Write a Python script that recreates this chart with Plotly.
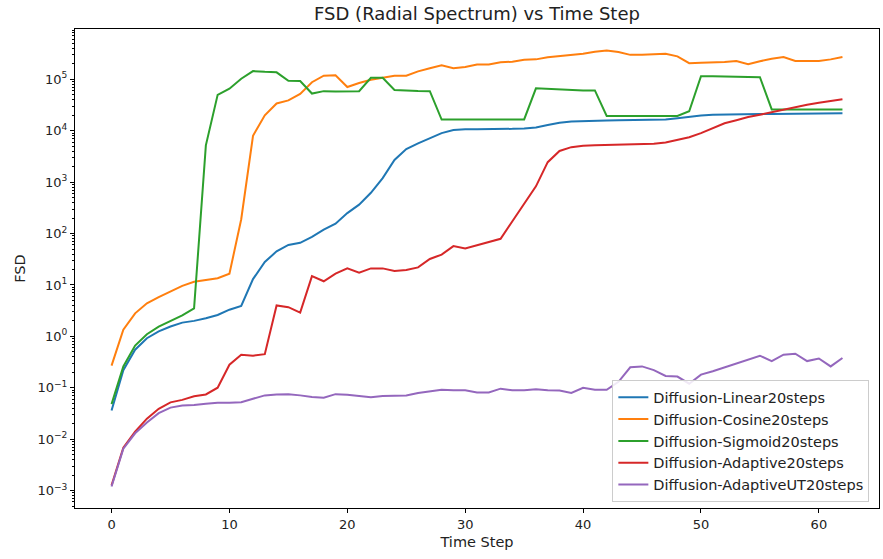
import plotly.graph_objects as go

steps = list(range(63))

linear = [0.036, 0.22, 0.55, 0.92, 1.25, 1.55, 1.85, 2.0, 2.25, 2.6, 3.3, 3.9, 13, 28, 45, 60, 66, 86, 119, 156, 250, 365,
          620, 1200, 2700, 4400, 5700, 7200, 9000, 10300, 10700, 10700, 10700, 10800, 10900, 11100, 11600, 12900,
          14300, 15200, 15600, 15800, 15900, 16000, 16100, 16200, 16300, 16600, 17600, 18900, 19900, 20500, 20800,
          21000, 21100, 21200, 21300, 21300, 21400, 21400, 21500, 21600, 22000]

cosine = [0.27, 1.35, 2.8, 4.4, 5.8, 7.6, 9.6, 11.5, 12.5, 13.5, 16.5, 190, 8000, 20000, 34000, 39000, 52000, 88000,
          118000, 120000, 71000, 85000, 98000, 108000, 118000, 118000, 143000, 165000, 187000, 165000, 174000,
          194000, 194000, 215000, 220000, 240000, 245000, 270000, 285000, 295000, 316000, 345000, 365000, 340000,
          300000, 300000, 305000, 316000, 280000, 207000, 210000, 213000, 218000, 228000, 198000, 225000, 253000,
          272000, 228000, 228000, 228000, 245000, 272000]

sigmoid = [0.048, 0.26, 0.66, 1.1, 1.55, 2.0, 2.55, 3.5, 5200, 50000, 66000, 103000, 145000, 140000, 137000, 94000,
           93000, 53000, 59000, 58000, 58000, 59000, 107000, 107000, 62000, 60000, 59500, 59000, 16500, 16500, 16500,
           16500, 16500, 16500, 16500, 16600, 67000, 65000, 63500, 62000, 61000, 61000, 19400, 19400, 19400, 19400,
           19400, 19400, 19400, 24000, 115000, 115000, 114000, 112000, 111000, 110000, 26000, 26000, 26000, 26000,
           26000, 26000, 26000]

adaptive = [0.00126, 0.0068, 0.014, 0.025, 0.039, 0.052, 0.058, 0.068, 0.074, 0.10, 0.28, 0.44, 0.42, 0.45, 4.0,
            3.7, 2.9, 14.8, 11.8, 16.6, 21, 17.4, 21, 21, 18.6, 19.5, 22, 32, 39, 57, 51, 59, 68, 79, 174, 380, 830,
            2450, 4050, 4800, 5100, 5200, 5250, 5300, 5350, 5450, 5600, 5900, 6600, 7500, 9000, 11200, 14000, 16000,
            18500, 20500, 23000, 26000, 29000, 32000, 35000, 38000, 41000]

adaptive_ut = [0.0012, 0.0065, 0.013, 0.021, 0.032, 0.041, 0.045, 0.046, 0.049, 0.051, 0.051, 0.052, 0.061, 0.071,
               0.074, 0.075, 0.071, 0.066, 0.064, 0.075, 0.073, 0.069, 0.065, 0.069, 0.071, 0.071, 0.079, 0.085,
               0.091, 0.089, 0.089, 0.081, 0.081, 0.096, 0.089, 0.089, 0.093, 0.089, 0.088, 0.079, 0.10, 0.091,
               0.091, 0.13, 0.25, 0.26, 0.22, 0.17, 0.165, 0.12, 0.18, 0.21, 0.25, 0.30, 0.36, 0.42, 0.33, 0.44,
               0.46, 0.33, 0.37, 0.26, 0.38]

names = ["Diffusion-Linear20steps", "Diffusion-Cosine20steps", "Diffusion-Sigmoid20steps",
         "Diffusion-Adaptive20steps", "Diffusion-AdaptiveUT20steps"]
series = [linear, cosine, sigmoid, adaptive, adaptive_ut]
colors = ["#1f77b4", "#ff7f0e", "#2ca02c", "#d62728", "#9467bd"]

x_ticks = [0, 10, 20, 30, 40, 50, 60]
y_exps = [-3, -2, -1, 0, 1, 2, 3, 4, 5]

fig = go.Figure()
for name, ys, c in zip(names, series, colors):
    fig.add_trace(go.Scatter(x=steps, y=ys, mode="lines", name=name,
                             line=dict(color=c, width=2)))

font = "DejaVu Sans, Liberation Sans, sans-serif"
fig.update_layout(
    width=883, height=559,
    margin=dict(l=75, r=4, t=29, b=51),
    paper_bgcolor="white", plot_bgcolor="white",
    font=dict(family=font, size=13, color="#222"),
    title=dict(text="FSD (Radial Spectrum) vs Time Step", xref="paper", x=0.5, xanchor="center",
               y=1 - 14/559, yanchor="middle", font=dict(size=18, color="#222")),
    showlegend=True,
    legend=dict(x=0.988, xanchor="right", y=0.012, yanchor="bottom",
                bgcolor="rgba(255,255,255,0.85)", bordercolor="#cccccc", borderwidth=1,
                font=dict(size=14.5, color="#222"), tracegroupgap=0),
)
fig.update_xaxes(range=[-3.1, 65.1], tickvals=x_ticks,
                 ticks="outside", ticklen=4, tickcolor="black",
                 showline=True, linecolor="black", linewidth=1, mirror=True,
                 showgrid=False, zeroline=False,
                 title=dict(text="Time Step", font=dict(size=14.5), standoff=6),
                 tickfont=dict(size=13))
fig.update_yaxes(type="log", range=[-3.34, 5.98],
                 tickvals=[10.0 ** e for e in y_exps],
                 ticktext=["10<sup>%s</sup>" % (str(e).replace("-", "\u2212")) for e in y_exps],
                 ticks="outside", ticklen=4, tickcolor="black",
                 minor=dict(ticks="outside", ticklen=2, tickcolor="black", dtick="D1", showgrid=False),
                 showline=True, linecolor="black", linewidth=1, mirror=True,
                 showgrid=False, zeroline=False,
                 title=dict(text="FSD", font=dict(size=14.5), standoff=8),
                 tickfont=dict(size=13))

fig.write_html("out.html")
